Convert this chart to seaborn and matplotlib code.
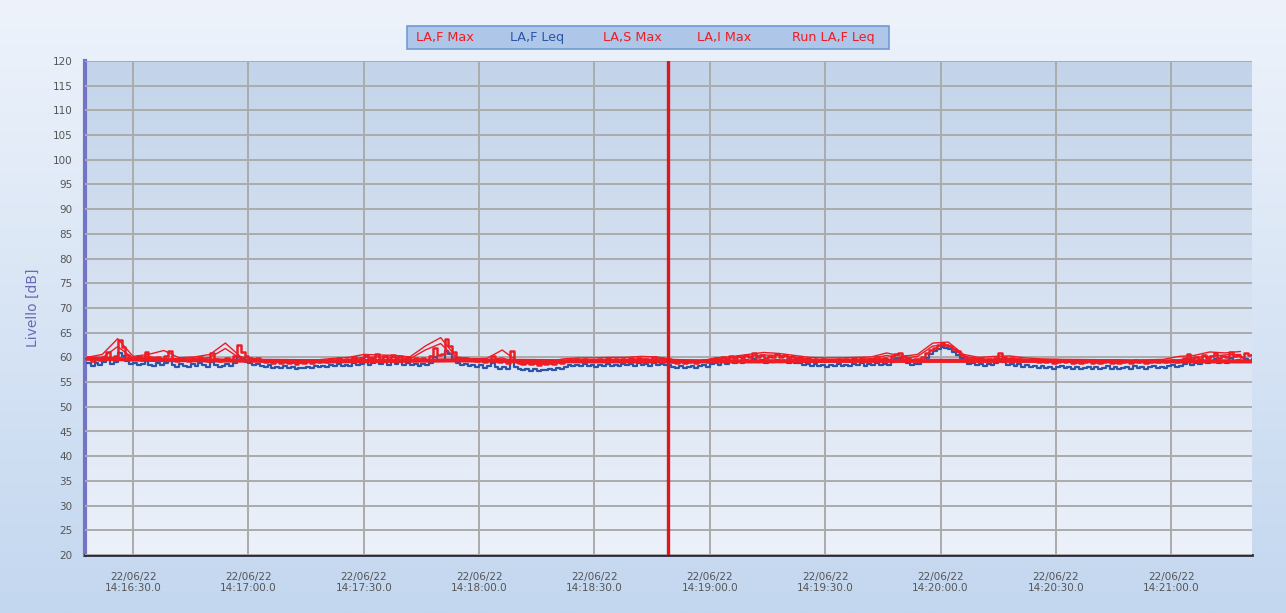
import numpy as np
import pandas as pd
import matplotlib
matplotlib.use("Agg")
import matplotlib.pyplot as plt
import seaborn as sns
from matplotlib.patches import Rectangle

# ---------------- data ----------------
# time: seconds after 14:16:00, one LA,F sample per second starting 14:16:18
start_sec = 18
la_f_max = [
    59.6, 59.2, 59.8, 59.4, 60.1, 61.0, 59.7, 60.2, 63.5, 62.1, 60.4, 59.6, 59.9, 60.3, 59.5, 61.1, 59.8, 59.4, 60.0, 59.6,
    60.2, 61.2, 59.7, 59.3, 59.9, 59.5, 59.2, 59.8, 59.4, 60.0, 59.6, 59.3, 60.8, 59.7, 59.2, 59.5, 59.9, 59.4, 60.3, 62.6,
    61.0, 60.2, 59.8, 59.5, 59.9, 59.3, 59.1, 59.5, 58.9, 59.2, 58.8, 59.3, 58.9, 59.1, 58.7, 59.0, 58.8, 59.2, 58.9, 59.3,
    59.0, 59.4, 59.1, 59.6, 59.3, 59.8, 59.4, 59.7, 59.3, 60.1, 59.5, 59.8, 60.4, 59.6, 59.9, 60.6, 59.7, 60.2, 59.6, 60.5,
    59.8, 60.3, 59.6, 60.1, 59.5, 59.9, 59.4, 59.8, 59.5, 60.2, 61.9, 60.4, 60.6, 63.8, 62.4, 61.0, 59.9, 59.6, 59.9, 59.4,
    59.7, 59.3, 59.6, 59.1, 59.4, 60.3, 59.2, 59.0, 59.3, 58.8, 61.3, 59.4, 58.9, 58.7, 59.0, 58.6, 58.9, 58.5, 58.8, 58.6,
    58.9, 58.7, 59.0, 58.8, 59.2, 59.5, 59.3, 59.6, 59.4, 59.7, 59.3, 59.5, 59.2, 59.6, 59.4, 59.8, 59.3, 59.6, 59.4, 59.7,
    59.5, 59.8, 59.4, 59.9, 59.5, 59.7, 59.4, 60.0, 59.6, 59.8, 59.5, 59.6, 59.0, 58.9, 59.2, 58.8, 59.1, 59.3, 58.9, 59.2,
    59.4, 59.1, 59.6, 59.8, 59.5, 60.0, 59.7, 60.2, 59.8, 60.3, 59.9, 60.4, 60.0, 60.8, 60.1, 60.5, 59.9, 60.3, 60.0, 60.6,
    60.1, 60.4, 59.9, 60.2, 59.8, 60.0, 59.6, 59.8, 59.4, 59.7, 59.3, 59.6, 59.2, 59.5, 59.3, 59.7, 59.4, 59.6, 59.3, 59.8,
    59.5, 59.9, 59.4, 59.7, 59.5, 60.0, 59.6, 59.8, 59.5, 60.3, 60.6, 60.9, 60.2, 59.8, 59.5, 59.7, 59.6, 60.1, 60.8, 61.5,
    62.0, 62.5, 62.9, 62.6, 62.3, 61.8, 61.2, 60.5, 60.0, 59.7, 59.9, 59.5, 59.8, 59.4, 59.7, 59.5, 59.9, 60.8, 60.1, 59.6,
    59.8, 59.4, 59.7, 59.3, 59.5, 59.2, 59.4, 59.1, 59.3, 59.0, 59.2, 58.9, 59.1, 59.3, 59.0, 59.2, 58.9, 59.1, 58.8, 59.0,
    59.2, 58.9, 59.1, 58.8, 59.0, 59.3, 58.9, 59.1, 58.8, 59.0, 59.2, 58.9, 59.4, 59.0, 59.2, 58.9, 59.1, 59.3, 59.0, 59.2,
    59.0, 59.3, 59.5, 59.1, 59.4, 59.8, 60.6, 59.6, 60.0, 59.7, 60.4, 59.9, 60.2, 60.8, 59.9, 60.3, 60.0, 61.0, 60.2, 60.5,
    60.1, 60.9, 60.4, 60.7,
]
la_f_leq = [
    58.8, 58.3, 58.9, 58.5, 59.0, 59.6, 58.7, 59.1, 60.8, 60.2, 59.2, 58.6, 58.9, 58.4, 58.7, 59.3, 58.5, 58.2, 58.8, 58.4,
    58.9, 59.4, 58.5, 58.1, 58.7, 58.3, 58.0, 58.6, 58.2, 58.8, 58.4, 58.1, 59.0, 58.5, 58.0, 58.3, 58.7, 58.2, 58.9, 60.1,
    59.6, 59.1, 58.8, 58.5, 58.7, 58.2, 58.0, 58.4, 57.9, 58.1, 57.8, 58.2, 57.8, 58.0, 57.7, 57.9, 57.8, 58.1, 57.9, 58.2,
    58.0, 58.3, 58.1, 58.5, 58.2, 58.6, 58.3, 58.5, 58.2, 58.8, 58.4, 58.7, 59.0, 58.5, 58.8, 59.1, 58.6, 59.0, 58.5, 59.2,
    58.7, 59.0, 58.5, 58.9, 58.4, 58.7, 58.3, 58.6, 58.4, 58.9, 60.0, 59.3, 59.5, 61.2, 60.6, 59.7, 58.8, 58.4, 58.7, 58.2,
    58.5, 58.1, 58.4, 57.9, 58.2, 58.8, 58.0, 57.7, 58.0, 57.6, 59.1, 58.0, 57.6, 57.4, 57.7, 57.3, 57.6, 57.2, 57.5, 57.4,
    57.7, 57.5, 57.8, 57.6, 58.0, 58.4, 58.2, 58.5, 58.3, 58.6, 58.2, 58.4, 58.1, 58.5, 58.3, 58.7, 58.2, 58.5, 58.3, 58.6,
    58.4, 58.7, 58.3, 58.8, 58.4, 58.6, 58.3, 58.9, 58.5, 58.7, 58.4, 58.5, 58.0, 57.9, 58.2, 57.8, 58.1, 58.3, 57.9, 58.2,
    58.4, 58.1, 58.6, 58.8, 58.5, 59.0, 58.7, 59.2, 58.8, 59.3, 58.9, 59.4, 59.0, 59.6, 59.1, 59.4, 58.9, 59.2, 59.0, 59.4,
    59.1, 59.3, 58.9, 59.1, 58.8, 58.9, 58.5, 58.7, 58.3, 58.6, 58.2, 58.5, 58.1, 58.4, 58.2, 58.6, 58.3, 58.5, 58.2, 58.7,
    58.4, 58.8, 58.3, 58.6, 58.4, 58.9, 58.5, 58.7, 58.4, 59.1, 59.6, 59.9, 59.2, 58.8, 58.5, 58.7, 58.6, 59.2, 59.9, 60.7,
    61.3, 61.8, 62.1, 61.9, 61.6, 61.1, 60.5, 59.8, 59.2, 58.7, 58.9, 58.4, 58.7, 58.3, 58.6, 58.4, 58.8, 59.6, 59.0, 58.5,
    58.7, 58.3, 58.6, 58.1, 58.4, 58.0, 58.3, 57.9, 58.2, 57.8, 58.1, 57.7, 58.0, 58.2, 57.8, 58.1, 57.7, 58.0, 57.6, 57.9,
    58.1, 57.7, 58.0, 57.6, 57.9, 58.2, 57.7, 58.0, 57.6, 57.9, 58.1, 57.7, 58.3, 57.8, 58.1, 57.7, 58.0, 58.2, 57.8, 58.1,
    57.9, 58.2, 58.4, 58.0, 58.3, 58.7, 59.4, 58.5, 58.9, 58.6, 59.2, 58.8, 59.1, 59.6, 58.8, 59.2, 58.9, 59.8, 59.1, 59.4,
    59.0, 59.7, 59.3, 59.6,
]
# slow / impulse maxima, one value every 4 s
step_slow = 4
la_s_max = [
    59.6, 59.9, 62.2, 59.8, 60.2, 59.7, 59.5, 59.6, 60.0, 61.8, 59.7, 59.3, 59.0, 58.9, 58.9, 59.1, 59.4, 59.6, 60.0, 60.1,
    60.0, 59.7, 61.5, 62.8, 59.7, 59.3, 59.4, 59.9, 58.8, 58.7, 58.8, 59.3, 59.5, 59.5, 59.6, 59.6, 59.7, 59.6, 59.4, 59.1,
    59.0, 59.6, 59.9, 60.2, 60.5, 60.4, 60.0, 59.6, 59.5, 59.5, 59.6, 59.7, 60.4, 59.8, 60.2, 62.3, 62.5, 60.2, 59.7, 59.6,
    59.8, 59.6, 59.3, 59.2, 59.1, 59.0, 59.0, 59.1, 59.0, 59.0, 59.2, 59.5, 60.0, 60.2, 60.5, 60.6,
]
la_i_max = [
    60.0, 60.6, 63.8, 60.2, 60.6, 61.4, 59.9, 60.1, 60.6, 62.9, 60.1, 59.7, 59.3, 59.3, 59.4, 59.5, 59.8, 60.0, 60.6, 60.5,
    60.4, 60.1, 62.3, 64.0, 60.1, 59.7, 59.8, 61.5, 59.2, 59.1, 59.2, 59.7, 59.9, 59.9, 60.0, 60.0, 60.2, 60.1, 59.6, 59.5,
    59.4, 59.9, 60.2, 60.6, 61.0, 60.8, 60.4, 60.0, 59.9, 59.9, 60.0, 60.1, 60.9, 60.2, 60.6, 62.9, 63.1, 60.6, 60.0, 60.2,
    60.3, 59.9, 59.7, 59.6, 59.5, 59.4, 59.4, 59.5, 59.4, 59.5, 59.6, 60.2, 60.4, 61.1, 60.9, 61.2,
]
# running Leq, one value every 16 s
step_run = 16
run_la_f_leq = [59.8, 59.5, 59.4, 59.3, 59.2, 59.3, 59.4, 59.3, 59.2, 59.2,
                59.2, 59.2, 59.3, 59.3, 59.3, 59.3, 59.3, 59.2, 59.2, 59.2]

series_names = ["LA,F Max", "LA,F Leq", "LA,S Max", "LA,I Max", "Run LA,F Leq"]
series_colors = ["#ee1c25", "#2b55a6", "#ee1c25", "#ee1c25", "#ee1c25"]

cursor_sec = 169.2  # 14:18:49.2
x_min_sec, x_max_sec = 17.5, 321.0
tick_secs = [30, 60, 90, 120, 150, 180, 210, 240, 270, 300]
tick_labels = ["22/06/22\n14:16:30.0", "22/06/22\n14:17:00.0", "22/06/22\n14:17:30.0",
               "22/06/22\n14:18:00.0", "22/06/22\n14:18:30.0", "22/06/22\n14:19:00.0",
               "22/06/22\n14:19:30.0", "22/06/22\n14:20:00.0", "22/06/22\n14:20:30.0",
               "22/06/22\n14:21:00.0"]
y_min, y_max = 20, 120

# ---------------- figure ----------------
sns.set_style("white")
plt.rcParams["font.family"] = ["DejaVu Sans"]

W, H = 1286, 613
fig = plt.figure(figsize=(W / 100, H / 100), dpi=100)

# figure background gradient
bg = fig.add_axes([0, 0, 1, 1], zorder=-10)
grad = np.linspace(0, 1, 256).reshape(-1, 1)
cmap_bg = matplotlib.colors.LinearSegmentedColormap.from_list("bg", ["#eef3fb", "#c3d7ef"])
bg.imshow(grad, aspect="auto", cmap=cmap_bg, extent=[0, 1, 0, 1], origin="upper")
bg.axis("off")

ax = fig.add_axes([85 / W, 1 - 555 / H, (1252 - 85) / W, (555 - 61) / H])
cmap_ax = matplotlib.colors.LinearSegmentedColormap.from_list("ax", ["#c3d4ea", "#ecf1fa"])
ax.imshow(grad, aspect="auto", cmap=cmap_ax,
          extent=[x_min_sec, x_max_sec, y_min, y_max], origin="upper", zorder=0)

t_f = [start_sec + i for i in range(len(la_f_max))]
t_s = [start_sec + i * step_slow for i in range(len(la_s_max))]
t_r = [start_sec + i * step_run for i in range(len(run_la_f_leq))]

df_f = pd.DataFrame({"t": t_f, "max": la_f_max, "leq": la_f_leq})
df_s = pd.DataFrame({"t": t_s, "smax": la_s_max, "imax": la_i_max})
df_r = pd.DataFrame({"t": t_r, "run": run_la_f_leq})

kw = dict(ax=ax, estimator=None)
sns.lineplot(data=df_f, x="t", y="leq", color=series_colors[1], lw=1.6, zorder=3,
             drawstyle="steps-post", **kw)
sns.lineplot(data=df_s, x="t", y="imax", color=series_colors[3], lw=1.0, zorder=4, **kw)
sns.lineplot(data=df_s, x="t", y="smax", color=series_colors[2], lw=1.0, zorder=4, **kw)
sns.lineplot(data=df_f, x="t", y="max", color=series_colors[0], lw=1.8, zorder=5,
             drawstyle="steps-post", **kw)
sns.lineplot(data=df_r, x="t", y="run", color=series_colors[4], lw=3.0, zorder=5, **kw)

ax.axvline(cursor_sec, color="#e0161e", lw=2.4, zorder=6)

ax.set_xlim(x_min_sec, x_max_sec)
ax.set_ylim(y_min, y_max)
ax.set_yticks(range(20, 121, 5))
ax.set_xticks(tick_secs)
ax.set_xticklabels(tick_labels)
ax.grid(True, color="#ababab", lw=1.4, zorder=1)
ax.set_axisbelow(False)
for gl in ax.get_xgridlines() + ax.get_ygridlines():
    gl.set_zorder(1)

ax.tick_params(axis="both", labelsize=7.5, labelcolor="#555555", color="#8a8a8a",
               length=6, width=1.2, direction="out")
ax.tick_params(axis="y", pad=3)
ax.tick_params(axis="x", pad=6)
ax.set_xlabel("")
ax.set_ylabel("Livello [dB]", color="#6a6ab4", fontsize=10, labelpad=10)
ax.yaxis.set_label_coords(-0.039, 0.50)

for s in ["top", "right"]:
    ax.spines[s].set_visible(False)
ax.spines["left"].set_color("#7474c4")
ax.spines["left"].set_linewidth(3)
ax.spines["bottom"].set_color("#2a2a3a")
ax.spines["bottom"].set_linewidth(2)

# legend box (text-only entries, like the original)
lx0, ly0, lx1, ly1 = 407, 26, 889, 49
fig.patches.append(Rectangle((lx0 / W, 1 - ly1 / H), (lx1 - lx0) / W, (ly1 - ly0) / H,
                             transform=fig.transFigure, facecolor="#aec6e8",
                             edgecolor="#6f9bd3", lw=1.2, zorder=5))
leg_x = [416, 510, 603, 697, 792]
for name, col, xp in zip(series_names, series_colors, leg_x):
    fig.text(xp / W, 1 - 38 / H, name, color=col, fontsize=9.2, va="center", ha="left", zorder=6)

fig.savefig("out.png", dpi=100)
